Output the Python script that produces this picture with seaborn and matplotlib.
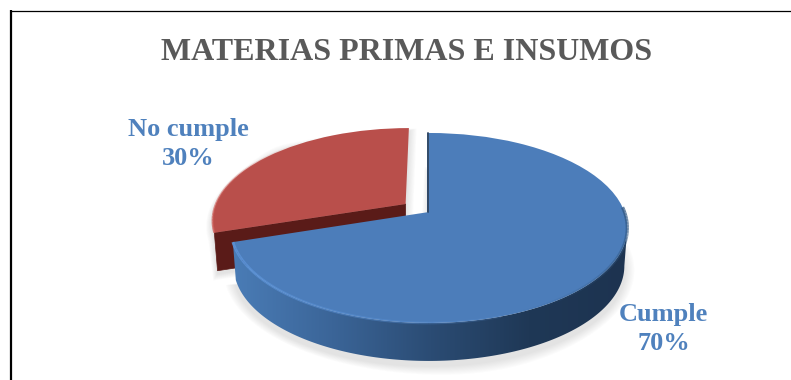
import numpy as np
import matplotlib
matplotlib.use("Agg")
import matplotlib.pyplot as plt
from matplotlib.patches import Polygon
from matplotlib.transforms import Transform
from matplotlib.colors import LinearSegmentedColormap
import seaborn as sns

categories = ["Cumple", "No cumple"]
values = [70, 30]
explode = [0, 0.15]
title_text = "MATERIAS PRIMAS E INSUMOS"

top_colors = ["#4c7dba", "#b94f4b"]
cut_face_color = "#5a1b18"
wall_colors = ["#4a7cb6", "#3b6598", "#2b4c74", "#1f3856", "#1d3350"]
text_blue = "#4f81bd"
title_grey = "#595959"

W, H = 791, 380
CX, CY = 429, 212       # pixel position of the pie centre on the tilted plane
SX, SY, TILT = 195.5, 92.3, 0.168
DEPTH, BASE_SHRINK = 38, 0.985


class DiscProjection(Transform):
    """Tilted-plane view of the unit disc, returned in pixel units."""
    input_dims = 2
    output_dims = 2
    is_separable = False
    has_inverse = False

    def transform_non_affine(self, values):
        xy = np.asarray(values, dtype=float)
        d = 1 + TILT * xy[:, 1]
        return np.column_stack([CX + SX * xy[:, 0] / d, CY - SY * xy[:, 1] / d])


proj = DiscProjection()


def arc(wedge, t0, t1, n=160):
    t = np.radians(np.linspace(t0, t1, n))
    pts = np.column_stack([wedge.center[0] + wedge.r * np.cos(t),
                           wedge.center[1] + wedge.r * np.sin(t)])
    return proj.transform_non_affine(pts)


def lowered(pts):
    """The same outline moved down to the base of the pie."""
    out = pts.copy()
    out[:, 0] = CX + BASE_SHRINK * (out[:, 0] - CX)
    out[:, 1] = out[:, 1] + DEPTH
    return out


def soft_shadow(outline, zorder, dy=4, spread=9, steps=9):
    mid = outline.mean(axis=0)
    for i in range(steps):
        g = spread * (1 - i / steps)
        d = outline - mid
        norm = np.maximum(np.hypot(d[:, 0], d[:, 1]), 1)[:, None]
        grown = outline + d / norm * g + [0, dy]
        ax.add_patch(Polygon(grown, closed=True, fc="#7f7f7f", ec="none",
                             alpha=0.022, zorder=zorder))


def rim_line(pts, color, lw, alpha_start, alpha_end, zorder, pieces=40):
    """Rim highlight whose strength changes along its length."""
    idx = np.linspace(0, len(pts) - 1, pieces + 1).astype(int)
    alphas = np.linspace(alpha_start, alpha_end, pieces)
    for a, b, al in zip(idx[:-1], idx[1:], alphas):
        ax.plot(pts[a:b + 1, 0], pts[a:b + 1, 1], color=color, lw=lw, alpha=al,
                solid_capstyle="butt", zorder=zorder)


sns.set_theme(style="white")
plt.rcParams["font.family"] = ["Liberation Serif"]

fig = plt.figure(figsize=(W / 100, H / 100), dpi=100, facecolor="white")
ax = fig.add_axes([0, 0, 1, 1])

wedges, _ = ax.pie(values, colors=top_colors, explode=explode, startangle=90,
                   counterclock=False, radius=1, center=(0, 0))
ax.set_xlim(0, W)
ax.set_ylim(H, 0)
ax.set_aspect("auto")

blue, red = wedges
red.set_radius(0.985)
for w, z in ((blue, 6), (red, 3)):
    w.set_transform(proj + ax.transData)
    w.set_zorder(z)
    w.set_linewidth(0)

# Shadows under both slices
blue_top = arc(blue, blue.theta1, blue.theta2)
red_top = arc(red, red.theta1, red.theta2)
blue_apex = proj.transform_non_affine(np.array([blue.center]))
red_apex = proj.transform_non_affine(np.array([red.center]))
tip = red_top[-1]
soft_shadow(np.vstack([lowered(blue_top), blue_apex + [0, DEPTH]]), 1, dy=5, spread=10)
soft_shadow(np.vstack([red_apex, red_top, lowered(tip[None]), red_apex + [0, DEPTH]]),
            1, dy=3, spread=8)

# Dark cut face of the red slice
cut = np.array([red_apex[0], tip, lowered(tip[None])[0], red_apex[0] + [0, DEPTH]])
ax.add_patch(Polygon(cut, closed=True, fc=cut_face_color, ec=cut_face_color,
                     lw=0.5, joinstyle="round", zorder=2))

# Curved outer wall of the blue slice, shaded from left to right
wall_top = arc(blue, blue.theta1, -9.6)
wall = np.vstack([wall_top, lowered(wall_top)[::-1]])
wall_patch = Polygon(wall, closed=True, fc="none", ec="none", transform=ax.transData)
ax.add_patch(wall_patch)
wall_cmap = LinearSegmentedColormap.from_list("wall", wall_colors)
shade = np.linspace(0, 1, 256)[None, :]
img = ax.imshow(shade, cmap=wall_cmap, aspect="auto", zorder=4,
                extent=(wall[:, 0].min(), wall[:, 0].max(), wall[:, 1].max(), wall[:, 1].min()))
img.set_clip_path(wall_patch)
ax.set_xlim(0, W)
ax.set_ylim(H, 0)

# Bevel highlights along the rims
rim_line(arc(blue, blue.theta1, blue.theta1 + 90), "#5c93d8", 2.0, 0.9, 0.15, 7)
rim_line(arc(blue, blue.theta1 + 95, blue.theta1 + 165), "#2f5580", 2.4, 0.0, 0.75, 7)
rim_line(arc(red, red.theta2 - 70, red.theta2), "#cf5f5a", 1.5, 0.0, 0.8, 4)
edge = np.vstack([arc(blue, blue.theta2, blue.theta2, n=1), blue_apex])
ax.plot(edge[:, 0] - 0.8, edge[:, 1], color="#1f3a5c", lw=1.3, zorder=7)

# Text
ax.text(407, 52, title_text, ha="center", va="center", fontsize=23,
        fontweight="bold", color=title_grey, zorder=9)
ax.text(188.5, 144, f"{categories[1]}\n{values[1]}%", ha="center", va="center",
        fontsize=19, fontweight="bold", color=text_blue, linespacing=1.3, zorder=9)
ax.text(663.5, 329, f"{categories[0]}\n{values[0]}%", ha="center", va="center",
        fontsize=19, fontweight="bold", color=text_blue, linespacing=1.3, zorder=9)

# Outer frame: left and top rules
ax.plot([11, 11], [H, 10], color="black", lw=1.6, zorder=10, solid_capstyle="butt")
ax.plot([10, W], [10.5, 10.5], color="black", lw=0.9, zorder=10, solid_capstyle="butt")

fig.savefig("out.png", dpi=100, facecolor="white")
